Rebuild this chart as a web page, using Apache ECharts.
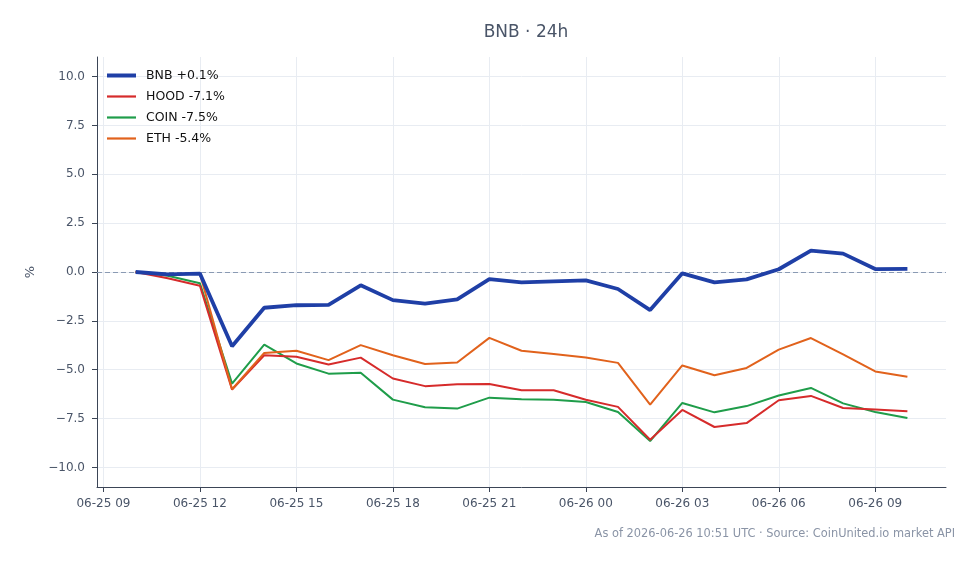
<!DOCTYPE html>
<html>
<head>
<meta charset="utf-8">
<script src="https://cdn.jsdelivr.net/npm/echarts@6/dist/echarts.min.js"></script>
<style>
  html, body { margin: 0; padding: 0; background: #fff; }
  #chart { width: 978px; height: 564px; }
</style>
</head>
<body>
<div id="chart"></div>
<script>
// hourly snapshots, local time
const times = [
  '2026-06-25T10:00', '2026-06-25T11:00', '2026-06-25T12:00', '2026-06-25T13:00',
  '2026-06-25T14:00', '2026-06-25T15:00', '2026-06-25T16:00', '2026-06-25T17:00',
  '2026-06-25T18:00', '2026-06-25T19:00', '2026-06-25T20:00', '2026-06-25T21:00',
  '2026-06-25T22:00', '2026-06-25T23:00', '2026-06-26T00:00', '2026-06-26T01:00',
  '2026-06-26T02:00', '2026-06-26T03:00', '2026-06-26T04:00', '2026-06-26T05:00',
  '2026-06-26T06:00', '2026-06-26T07:00', '2026-06-26T08:00', '2026-06-26T09:00',
  '2026-06-26T10:00'
];
const bnb = [0.0, -0.12, -0.08, -3.8, -1.83, -1.7, -1.68, -0.68, -1.44, -1.62, -1.4, -0.36,
  -0.53, -0.48, -0.43, -0.87, -1.95, -0.07, -0.53, -0.38, 0.14, 1.09, 0.94, 0.15, 0.16];
const hood = [0.0, -0.32, -0.7, -6.02, -4.26, -4.34, -4.73, -4.38, -5.45, -5.84, -5.74, -5.73,
  -6.05, -6.05, -6.54, -6.9, -8.58, -7.06, -7.93, -7.73, -6.56, -6.34, -6.96, -7.03, -7.13];
const coin = [0.0, -0.19, -0.58, -5.71, -3.71, -4.68, -5.2, -5.15, -6.53, -6.92, -6.99, -6.43,
  -6.51, -6.53, -6.65, -7.16, -8.65, -6.7, -7.18, -6.86, -6.32, -5.93, -6.72, -7.16, -7.47];
const eth = [0.0, -0.14, -0.07, -6.0, -4.14, -4.03, -4.51, -3.74, -4.26, -4.71, -4.63, -3.37,
  -4.03, -4.2, -4.38, -4.65, -6.79, -4.78, -5.28, -4.91, -3.97, -3.38, -4.22, -5.09, -5.36];
const xTicks = [
  '2026-06-25T09:00', '2026-06-25T12:00', '2026-06-25T15:00', '2026-06-25T18:00',
  '2026-06-25T21:00', '2026-06-26T00:00', '2026-06-26T03:00', '2026-06-26T06:00',
  '2026-06-26T09:00'
];
const yTicks = [-10, -7.5, -5, -2.5, 0, 2.5, 5, 7.5, 10];
const xMin = '2026-06-25T08:48';
const xMax = '2026-06-26T11:12';

const seriesDefs = [
  { name: 'BNB +0.1%', data: bnb, color: '#1f3fa6', width: 3.8, z: 5, icon: 'path://M0,0 L29,0 L29,4 L0,4 Z' },
  { name: 'HOOD -7.1%', data: hood, color: '#d62b2b', width: 2, z: 3, icon: 'path://M0,0 L29,0 L29,2.2 L0,2.2 Z' },
  { name: 'COIN -7.5%', data: coin, color: '#1f9d4a', width: 2, z: 2, icon: 'path://M0,0 L29,0 L29,2.2 L0,2.2 Z' },
  { name: 'ETH -5.4%', data: eth, color: '#e1621c', width: 2, z: 4, icon: 'path://M0,0 L29,0 L29,2.2 L0,2.2 Z' },
];

const ts = (s) => new Date(s).getTime();
const pad = (n) => String(n).padStart(2, '0');

const chart = echarts.init(document.getElementById('chart'));
const axisColor = '#3b4556';
const labelColor = '#4a5568';
const font = 'DejaVu Sans';

chart.setOption({
  animation: false,
  title: {
    text: 'BNB · 24h',
    left: 521, top: 19, textAlign: 'center',
    textStyle: { fontFamily: font, fontSize: 17, fontWeight: 'normal', color: '#4a5568' },
  },
  graphic: [{
    type: 'text', right: 23, top: 529,
    style: {
      text: 'As of 2026-06-26 10:51 UTC · Source: CoinUnited.io market API',
      fontFamily: font, fontSize: 11.4, fill: '#8a94a6',
    },
  }],
  legend: {
    orient: 'vertical', left: 102, top: 64, itemGap: 8,
    itemWidth: 29, itemHeight: 14,
    textStyle: { fontFamily: font, fontSize: 12.5, color: '#111', padding: [0, 0, 0, 5] },
    data: seriesDefs.map((s) => ({
      name: s.name,
      icon: s.icon,
      itemStyle: { color: s.color },
    })),
  },
  grid: { left: 97, right: 32, top: 57, bottom: 77 },
  xAxis: {
    type: 'value',
    min: ts(xMin), max: ts(xMax),
    axisLine: { onZero: false, lineStyle: { color: axisColor, width: 1 } },
    axisTick: { show: true, length: 5, lineStyle: { color: axisColor }, customValues: xTicks.map(ts) },
    axisLabel: {
      customValues: xTicks.map(ts),
      color: labelColor, fontFamily: font, fontSize: 12, margin: 11,
      formatter: (v) => {
        const d = new Date(v);
        return pad(d.getMonth() + 1) + '-' + pad(d.getDate()) + ' ' + pad(d.getHours());
      },
    },
    splitLine: { show: true, lineStyle: { color: '#e8ecf2', width: 1 } },
  },
  yAxis: {
    type: 'value', min: -11, max: 11,
    name: '%', nameLocation: 'middle', nameGap: 59, nameRotate: 90,
    nameTextStyle: { color: labelColor, fontFamily: font, fontSize: 13 },
    axisLine: { show: true, onZero: false, lineStyle: { color: axisColor, width: 1 } },
    axisTick: { show: true, length: 5, lineStyle: { color: axisColor }, customValues: yTicks },
    axisLabel: {
      customValues: yTicks,
      color: labelColor, fontFamily: font, fontSize: 12, margin: 12,
      formatter: (v) => v.toFixed(1).replace('-', '\u2212'),
    },
    splitLine: { show: true, lineStyle: { color: '#e8ecf2', width: 1 } },
  },
  series: seriesDefs.map((s, i) => ({
    name: s.name,
    type: 'line',
    showSymbol: false,
    z: s.z,
    color: s.color,
    lineStyle: { color: s.color, width: s.width },
    data: times.map((t, j) => [ts(t), s.data[j]]),
    markLine: i === 0 ? {
      silent: true, symbol: 'none', label: { show: false }, z: 1,
      lineStyle: { color: '#8a9ab3', type: [5, 3], width: 1 },
      data: [{ yAxis: 0 }],
    } : undefined,
  })),
});
</script>
</body>
</html>
